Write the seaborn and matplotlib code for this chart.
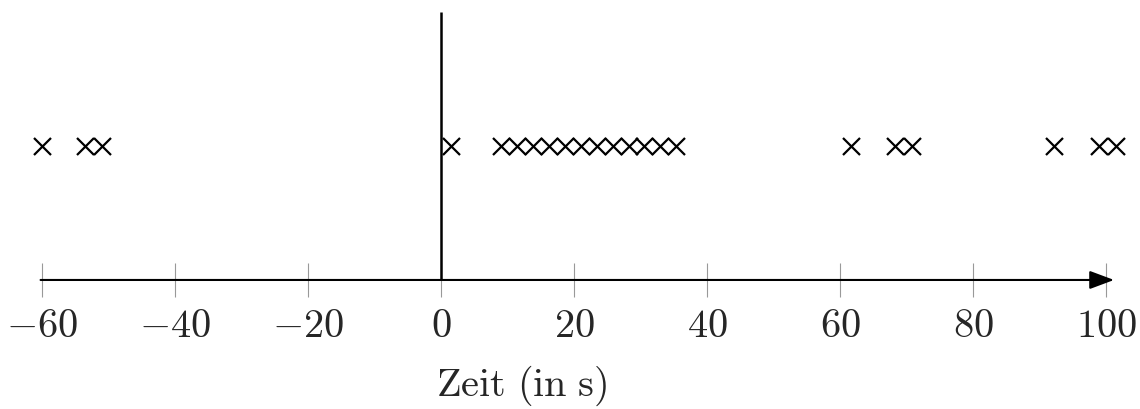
import numpy as np
import pandas as pd
import seaborn as sns
import matplotlib
matplotlib.use('Agg')
from matplotlib import pyplot as plt

# event times (s)
zeit = [-60.0, -53.5, -51.0,
        1.5, 9.0, 11.4, 13.8, 16.2, 18.6, 21.0, 23.4, 25.8, 28.2, 30.6, 33.0, 35.4,
        61.6, 68.3, 70.8,
        92.2, 98.9, 101.5]
ticks = [-60, -40, -20, 0, 20, 40, 60, 80, 100]

df = pd.DataFrame({'zeit': zeit, 'y': 1.0})

sns.set_theme(style='white')
plt.rcParams['mathtext.fontset'] = 'cm'

fig = plt.figure(figsize=(11.4, 4.1), dpi=100)
ax = fig.add_axes([0, 0, 1, 1])

sns.scatterplot(data=df, x='zeit', y='y', marker='x', s=150, color='black',
                linewidth=1.6, ax=ax, legend=False)

# axes drawn by hand: arrow along time, vertical line at zero
ax.annotate('', xy=(101.2, 0), xytext=(-60.2, 0),
            arrowprops=dict(arrowstyle='-|>,head_length=0.75,head_width=0.28',
                            color='black', lw=1.5, mutation_scale=20,
                            shrinkA=0, shrinkB=0))
ax.vlines(0, 0, 2.0, color='black', lw=1.8)

ax.set_xlim(-66.3, 105.1)
ax.set_ylim(-0.963, 2.097)
for s in ax.spines.values():
    s.set_visible(False)
ax.spines['bottom'].set_position(('data', 0))
ax.set_xticks(ticks)
ax.set_xticklabels([r'$%d$' % t for t in ticks])
ax.set_yticks([])
ax.tick_params(axis='x', direction='inout', length=24, width=0.8, color='0.6',
               labelsize=29, pad=6, bottom=True)
ax.set_xlabel('')
ax.set_ylabel('')
ax.text(12.2, -0.78, r'$\mathrm{Zeit\ (in\ s)}$', fontsize=29, ha='center', va='center')

fig.savefig('out.png', dpi=100)
